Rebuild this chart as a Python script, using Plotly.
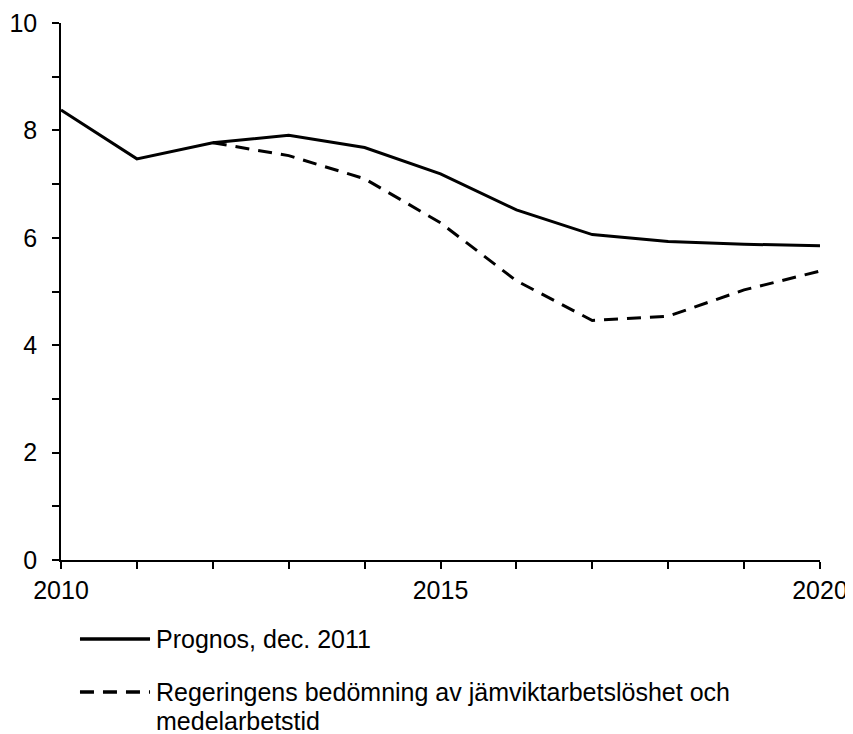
import plotly.graph_objects as go

years = [2010, 2011, 2012, 2013, 2014, 2015, 2016, 2017, 2018, 2019, 2020]
prognos = [8.38, 7.47, 7.77, 7.91, 7.68, 7.19, 6.52, 6.06, 5.93, 5.88, 5.85]
years_reg = [2012, 2013, 2014, 2015, 2016, 2017, 2018, 2019, 2020]
regeringen = [7.77, 7.53, 7.10, 6.28, 5.20, 4.46, 4.54, 5.03, 5.38]

name1 = "Prognos, dec. 2011"
name2_lines = ["Regeringens bedömning av jämviktarbetslöshet och", "medelarbetstid"]

FONT = "Liberation Sans, Arial, sans-serif"
FS = 25
DASH = "14px,9px"

fig = go.Figure()
fig.add_trace(go.Scatter(x=years, y=prognos, mode="lines", name=name1,
                         line=dict(color="black", width=3)))
fig.add_trace(go.Scatter(x=years_reg, y=regeringen, mode="lines",
                         name=" ".join(name2_lines),
                         line=dict(color="black", width=3, dash=DASH)))

# legend drawn below the plot (paper coordinates; plot area height 537 px)
leg_x0, leg_x1, leg_tx = 0.025, 0.1173, 0.1225
leg_y1, leg_y2, leg_y2b = -0.1471, -0.2458, -0.2998
fig.add_shape(type="line", xref="paper", yref="paper", x0=leg_x0, x1=leg_x1,
              y0=leg_y1, y1=leg_y1, line=dict(color="black", width=3.5))
fig.add_shape(type="line", xref="paper", yref="paper", x0=leg_x0, x1=leg_x1,
              y0=leg_y2, y1=leg_y2, line=dict(color="black", width=3.5, dash=DASH))
for txt, yy in [(name1, leg_y1), (name2_lines[0], leg_y2), (name2_lines[1], leg_y2b)]:
    fig.add_annotation(text=txt, xref="paper", yref="paper", x=leg_tx, y=yy,
                       xanchor="left", yanchor="middle", showarrow=False,
                       font=dict(family=FONT, size=FS, color="black"))

fig.update_layout(
    width=853, height=734,
    margin=dict(l=53, r=41, t=15, b=182),
    paper_bgcolor="white", plot_bgcolor="white",
    font=dict(family=FONT, size=FS, color="black"),
    showlegend=False,
    xaxis=dict(range=[2010, 2020], tick0=2010, dtick=5, showgrid=False,
               zeroline=False, showline=True, linecolor="black", linewidth=1.5,
               ticks="outside", ticklen=7, tickwidth=1.5, tickcolor="black",
               automargin=False, tickfont=dict(size=FS), ticklabeloverflow="allow",
               minor=dict(dtick=1, ticks="outside", ticklen=7, tickwidth=1.5,
                          tickcolor="black", showgrid=False)),
    yaxis=dict(range=[0, 10], tick0=0, dtick=2, showgrid=False,
               zeroline=False, showline=True, linecolor="black", linewidth=1.5,
               ticks="outside", ticklen=7, tickwidth=1.5, tickcolor="black",
               automargin=False, tickfont=dict(size=FS), ticklabelstandoff=10,
               ticklabeloverflow="allow",
               minor=dict(dtick=1, ticks="outside", ticklen=7, tickwidth=1.5,
                          tickcolor="black", showgrid=False)),
)

fig.write_html("out.html")
